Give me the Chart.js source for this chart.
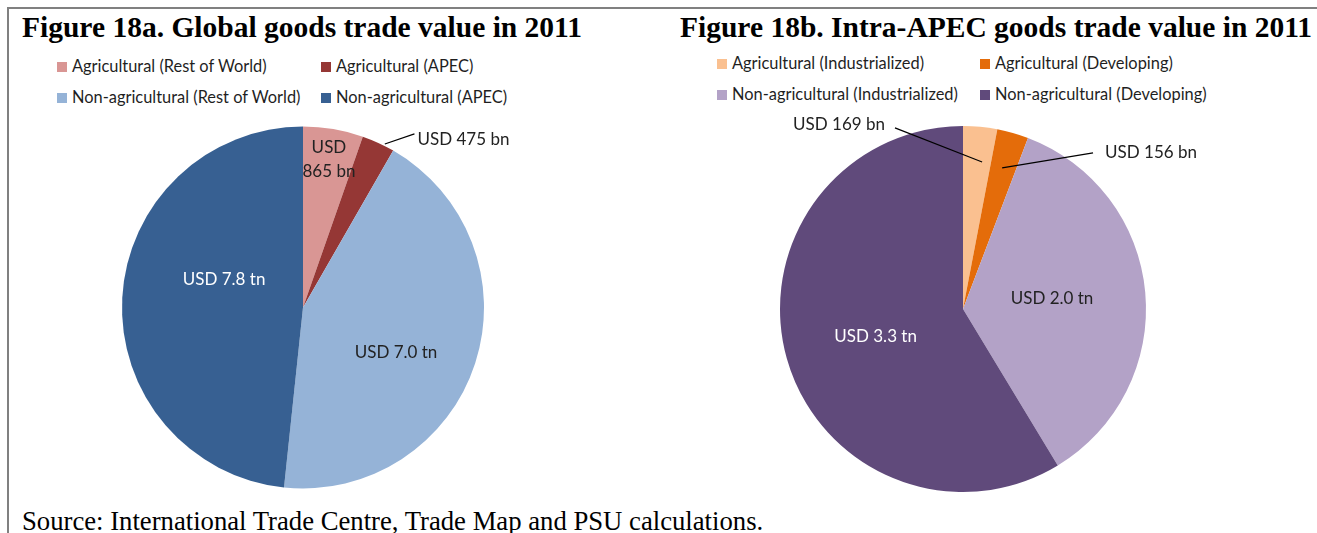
<!DOCTYPE html>
<html>
<head>
<meta charset="utf-8">
<script src="https://cdn.jsdelivr.net/npm/chart.js@4.4.1/dist/chart.umd.min.js"></script>
<style>
  html, body { margin: 0; padding: 0; background: #fff; }
  body { width: 1317px; height: 533px; position: relative; overflow: hidden; }
  .frame { position: absolute; left: 7px; top: 7px; right: -2px; bottom: -2px;
           border-top: 2px solid #808080; border-left: 2px solid #808080; }
  .title { position: absolute; top: 11px; font: bold 29.5px "Liberation Serif", "Times New Roman", serif;
           color: #000; white-space: nowrap; line-height: normal; }
  .source { position: absolute; left: 22px; top: 506px; font: 26.7px "Liberation Serif", "Times New Roman", serif;
            color: #000; white-space: nowrap; }
  .legend-item { position: absolute; font: 16.4px Lato, "Open Sans", sans-serif; color: #1f1f1f;
                 white-space: nowrap; line-height: 20px; }
  .legend-item span { display: inline-block; width: 10px; height: 10px; margin-right: 5px;
                      vertical-align: 0px; }
  canvas { position: absolute; }
</style>
</head>
<body>
<div class="frame"></div>
<div class="title" style="left:22px">Figure 18a. Global goods trade value in 2011</div>
<div class="title" style="left:680px">Figure 18b. Intra-APEC goods trade value in 2011</div>
<div id="legendA"></div>
<div id="legendB"></div>
<canvas id="pieA" width="620" height="390" style="left:8px;top:110px"></canvas>
<canvas id="pieB" width="657" height="390" style="left:660px;top:110px"></canvas>
<div class="source">Source: International Trade Centre, Trade Map and PSU calculations.</div>

<script>
// ---- data (USD bn) ----
const globalLabels = ["Agricultural (Rest of World)", "Agricultural (APEC)",
                      "Non-agricultural (Rest of World)", "Non-agricultural (APEC)"];
const globalValues = [865, 475, 7000, 7800];
const globalText = [["USD", "865 bn"], "USD 475 bn", "USD 7.0 tn", "USD 7.8 tn"];

const apecLabels = ["Agricultural (Industrialized)", "Agricultural (Developing)",
                    "Non-agricultural (Industrialized)", "Non-agricultural (Developing)"];
const apecValues = [169, 156, 2000, 3300];
const apecText = ["USD 169 bn", "USD 156 bn", "USD 2.0 tn", "USD 3.3 tn"];

const globalColors = ["#D99694", "#953735", "#95B3D7", "#376092"];
const apecColors = ["#FAC090", "#E46C0A", "#B3A2C7", "#604A7B"];

// label placement: r = fraction of radius, da = degrees from slice middle
const DARK = "#222", LIGHT = "#fff";
const globalPlace = [
  { r: 0.83, da: 0.3, color: DARK },
  { r: 1.01, da: 2.0, line: { r: 1.14, da: 8.1 }, align: "left", dx: 3, dy: 6, color: DARK },
  { r: 0.572, da: 8.1, color: DARK },
  { r: 0.462, da: 16.2, color: LIGHT },
];
const apecPlace = [
  { r: 0.81, da: 2.0, line: { r: 1.057, da: -26.0 }, align: "right", dx: -10, dy: -3, color: DARK },
  { r: 0.80, da: -0.3, line: { r: 1.11, da: 24.0 }, align: "left", dx: 12, dy: 0, color: DARK },
  { r: 0.49, da: -1.8, color: DARK },
  { r: 0.50, da: -1.6, color: LIGHT },
];

/* ================= Legends ================= */

function buildLegend(id, labels, colors, cols, rows) {
  const el = document.getElementById(id);
  labels.forEach(function (lab, i) {
    const d = document.createElement("div");
    d.className = "legend-item";
    d.style.left = cols[i % 2] + "px";
    d.style.top = rows[Math.floor(i / 2)] + "px";
    d.innerHTML = '<span style="background:' + colors[i] + '"></span>' + lab;
    el.appendChild(d);
  });
}
buildLegend("legendA", globalLabels, globalColors, [57, 321], [56, 87]);
buildLegend("legendB", apecLabels, apecColors, [717, 980], [53, 84]);

/* ================= Slice labels ================= */

const sliceLabels = {
  id: "sliceLabels",
  afterDatasetsDraw(chart, args, opts) {
    const ctx = chart.ctx;
    const arcs = chart.getDatasetMeta(0).data;
    ctx.save();
    ctx.font = "17px Lato, 'Open Sans', sans-serif";
    ctx.textBaseline = "middle";
    arcs.forEach(function (arc, i) {
      const p = opts.place[i];
      const mid = (arc.startAngle + arc.endAngle) / 2;
      const pt = function (r, da) {
        const a = mid + da * Math.PI / 180;
        return { x: arc.x + arc.outerRadius * r * Math.cos(a), y: arc.y + arc.outerRadius * r * Math.sin(a) };
      };
      const a = pt(p.r, p.da);
      let tx = a.x, ty = a.y;
      ctx.textAlign = "center";
      if (p.line) {
        const b = pt(p.line.r, p.line.da);
        ctx.strokeStyle = "#000";
        ctx.lineWidth = 1.2;
        ctx.beginPath();
        ctx.moveTo(a.x, a.y);
        ctx.lineTo(b.x, b.y);
        ctx.stroke();
        tx = b.x + p.dx;
        ty = b.y + p.dy;
        ctx.textAlign = p.align;
      }
      ctx.fillStyle = p.color;
      const txt = opts.text[i];
      if (Array.isArray(txt)) {
        txt.forEach(function (line, k) {
          ctx.fillText(line, tx, ty + (k - (txt.length - 1) / 2) * 24);
        });
      } else {
        ctx.fillText(txt, tx, ty);
      }
    });
    ctx.restore();
  },
};

/* ================= Pie charts ================= */

function makePie(id, labels, values, colors, text, place, padding) {
  new Chart(document.getElementById(id), {
    type: "pie",
    data: {
      labels: labels,
      datasets: [{ data: values, backgroundColor: colors, borderWidth: 0 }],
    },
    options: {
      responsive: false,
      animation: false,
      layout: { padding: padding },
      plugins: {
        legend: { display: false },
        tooltip: { enabled: false },
        sliceLabels: { text: text, place: place },
      },
    },
    plugins: [sliceLabels],
  });
}

makePie("pieA", globalLabels, globalValues, globalColors, globalText, globalPlace,
        { left: 114, right: 144, top: 16.5, bottom: 11.5 });
makePie("pieB", apecLabels, apecValues, apecColors, apecText, apecPlace,
        { left: 120, right: 171, top: 16, bottom: 8 });
</script>
</body>
</html>
